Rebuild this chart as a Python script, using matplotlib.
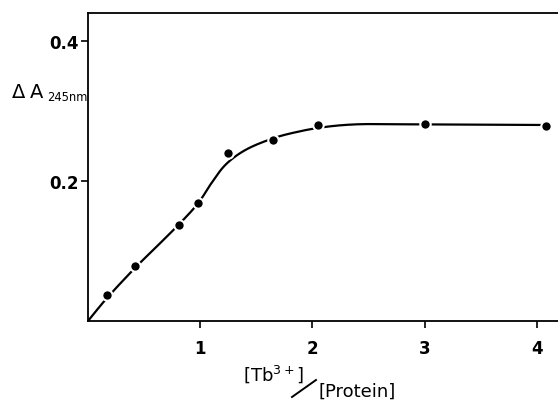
import matplotlib
matplotlib.use("Agg")
import matplotlib.pyplot as plt
from matplotlib.lines import Line2D
import numpy as np

plt.rcParams['font.family'] = ['DejaVu Sans']
plt.rcParams['mathtext.fontset'] = 'dejavusans'

# measured points
ratio = [0.17, 0.42, 0.81, 0.98, 1.25, 1.65, 2.05, 3.0, 4.08]
delta_a = [0.037, 0.079, 0.137, 0.169, 0.240, 0.259, 0.280, 0.281, 0.279]

# drawn titration curve
curve_x = [0, 0.17, 0.42, 0.61, 0.81, 0.98, 1.1, 1.23, 1.41, 1.65, 1.86, 2.1, 2.4, 2.8, 4.1]
curve_y = [0, 0.033, 0.076, 0.106, 0.138, 0.168, 0.197, 0.224, 0.245, 0.261, 0.270, 0.277, 0.281, 0.281, 0.280]

x_ticks = [1, 2, 3, 4]
x_ticklabels = ['1', '2', '3', '4']
y_ticks = [0.2, 0.4]
y_ticklabels = ['0.2', '0.4']


def catmull_rom(xs, ys, n=12):
    """Smooth drawing path through the read curve points."""
    p = np.column_stack([xs, ys])
    p = np.vstack([p[0] - (p[1] - p[0]), p, p[-1] + (p[-1] - p[-2])])
    out = []
    t = np.linspace(0, 1, n, endpoint=False)[:, None]
    for i in range(1, len(p) - 2):
        p0, p1, p2, p3 = p[i - 1], p[i], p[i + 1], p[i + 2]
        seg = 0.5 * ((2 * p1) + (-p0 + p2) * t + (2 * p0 - 5 * p1 + 4 * p2 - p3) * t ** 2
                     + (-p0 + 3 * p1 - 3 * p2 + p3) * t ** 3)
        out.append(seg)
    out.append(p[-2][None, :])
    out = np.vstack(out)
    return out[:, 0], out[:, 1]


fig = plt.figure(figsize=(5.58, 4.02), dpi=100)
ax = fig.add_axes([88/558, 80/402, 1 - 88/558, (322-14)/402])

sx, sy = catmull_rom(curve_x, curve_y)
ax.plot(sx, sy, color='black', lw=1.6, solid_capstyle='butt', zorder=2)
ax.plot(ratio, delta_a, linestyle='none', marker='o', ms=7.5, mfc='black',
        mec='white', mew=1.5, zorder=3)

ax.set_xlim(0, (558-89)/112)
ax.set_ylim(0, 0.44)
ax.set_xticks(x_ticks)
ax.set_xticklabels(x_ticklabels)
ax.set_yticks(y_ticks)
ax.set_yticklabels(y_ticklabels)

for s in ['left', 'bottom', 'top']:
    ax.spines[s].set_linewidth(1.3)
ax.spines['right'].set_visible(False)

ax.tick_params(axis='both', direction='out', length=5, width=1.2, labelsize=12)
ax.tick_params(axis='x', pad=8)
ax.tick_params(axis='y', pad=2)
for lab in ax.get_xticklabels() + ax.get_yticklabels():
    lab.set_fontweight('bold')

# y label: ΔA with subscript 245nm
fig.text(12/558, 1 - 98/402, 'Δ', fontsize=14, ha='left', va='baseline')
fig.text(30/558, 1 - 98/402, 'A', fontsize=14, ha='left', va='baseline')
fig.text(47/558, 1 - 101/402, '245nm', fontsize=8.3, ha='left', va='baseline')

# x label as ratio
fig.text(274/558, 1 - 374/402, r'[Tb$^{3+}$]', fontsize=13, ha='center', va='center')
fig.text(357/558, 1 - 392/402, '[Protein]', fontsize=13, ha='center', va='center')
fig.add_artist(Line2D([292/558, 316/558], [1 - 398/402, 1 - 381/402],
                      transform=fig.transFigure, color='black', lw=1.4))

fig.savefig('out.png', dpi=100)
